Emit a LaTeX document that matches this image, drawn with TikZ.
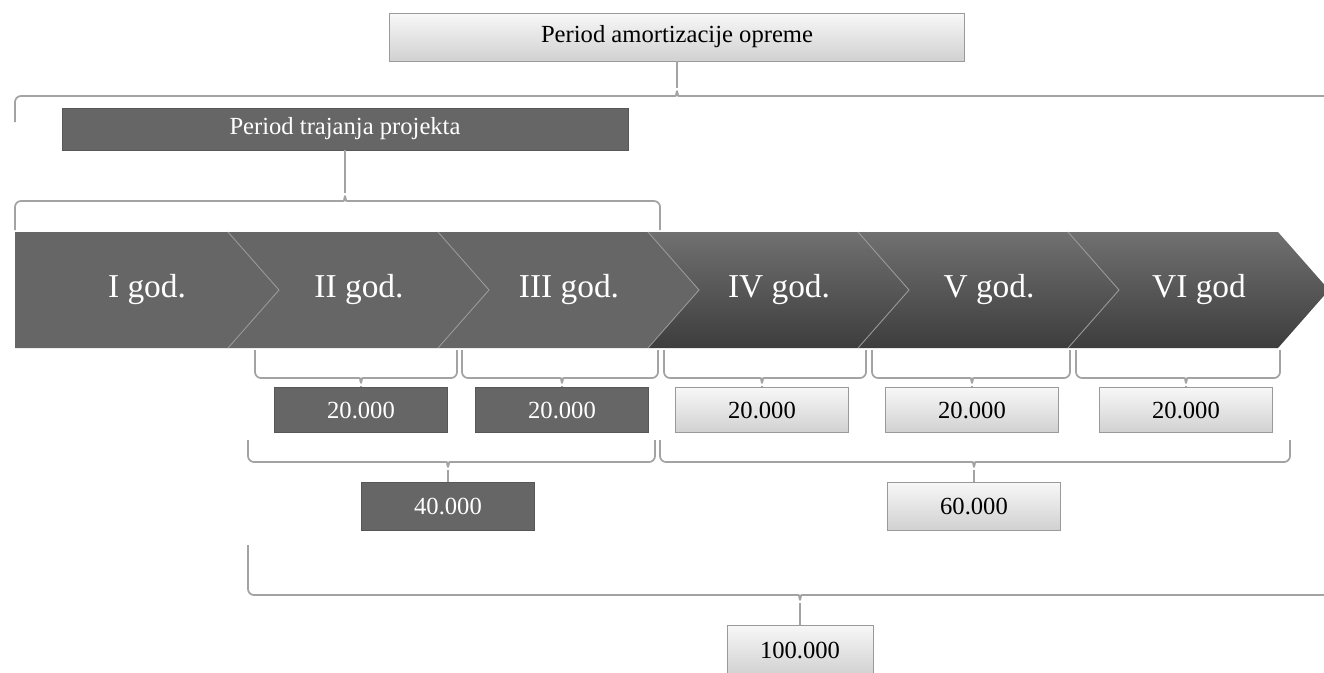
\documentclass[tikz,border=0pt]{standalone}
\usepackage{fontspec}
\setmainfont{Liberation Serif}
\usetikzlibrary{calc,positioning}

\definecolor{darkgr}{HTML}{666666}
\definecolor{bracegr}{HTML}{A3A3A3}
\definecolor{edgegr}{HTML}{9A9A9A}

\def\pxl{0.2mm}

\tikzset{
  darkbox/.style={draw=darkgr!85!black, fill=darkgr, text=white, inner sep=0pt,
    font=\fontsize{14}{16}\selectfont, minimum width={173*\pxl}, minimum height={45*\pxl}},
  lightbox/.style={draw=edgegr, top color=black!3, bottom color=black!18, text=black, inner sep=0pt,
    font=\fontsize{14}{16}\selectfont, minimum width={173*\pxl}, minimum height={45*\pxl}},
  brc/.style={draw=bracegr, line width=1pt, rounded corners=1.2mm},
  stem/.style={draw=bracegr, line width=1pt},
  notch/.style={draw=black!40, line width=0.5pt},
  yearlbl/.style={text=white, font=\fontsize{19}{22}\selectfont}
}

% brace: x1, x2, tip x, y of ends, y of line, y of tip
\newcommand{\gbrace}[6]{%
  \draw[brc] (#1,#4) -- (#1,#5) -- ({#3-8},#5) .. controls ({#3-1},#5) .. (#3,#6)
    .. controls ({#3+1},#5) .. ({#3+8},#5) -- (#2,#5) -- (#2,#4);}

\begin{document}
\begin{tikzpicture}[x=0.2mm,y=-0.2mm]
\useasboundingbox (0,0) rectangle (1324,672);

% the two periods
\node[lightbox, minimum width={575*\pxl}, minimum height={48*\pxl}] (amort) at (677,37) {Period amortizacije opreme};
\gbrace{15}{1340}{677}{122}{96}{88}
\coordinate (tA) at (677,88);
\draw[stem] (tA) -- (amort);

\node[darkbox, minimum width={566*\pxl}, minimum height={42*\pxl}] (proj) at (345,129) {Period trajanja projekta};
\gbrace{15}{660}{345}{230}{201}{193}
\coordinate (tP) at (345,193);
\draw[stem] (tP) -- (proj);

% years
\foreach \i in {1,...,6}{
  \pgfmathsetmacro{\xl}{\i==1 ? 15 : 18+210*(\i-1)}
  \pgfmathsetmacro{\xr}{18+210*\i}
  \pgfmathsetmacro{\nd}{\i==1 ? 0 : 51}
  \ifnum\i<4
    \fill[darkgr] (\xl,232) -- (\xr,232) -- ({\xr+51},290) -- (\xr,348) -- (\xl,348) -- ({\xl+\nd},290) -- cycle;
  \else
    \shade[top color=black!56, bottom color=black!76] (\xl,232) -- (\xr,232) -- ({\xr+51},290) -- (\xr,348) -- (\xl,348) -- ({\xl+\nd},290) -- cycle;
  \fi
  \ifnum\i>1
    \draw[notch] (\xl,232) -- ({\xl+51},290) -- (\xl,348);
  \fi
}
\node[yearlbl] (y1) at (147,290) {I god.};
\node[yearlbl] (y2) at (359,290) {II god.};
\node[yearlbl] (y3) at (569,290) {III god.};
\node[yearlbl] (y4) at (779,290) {IV god.};
\node[yearlbl] (y5) at (989,290) {V god.};
\node[yearlbl] (y6) at (1199,290) {VI god};

% yearly amounts
\node[darkbox] (n2) at (361,410) {20.000};
\node[darkbox] (n3) at (562,410) {20.000};
\node[lightbox] (n4) at (762,410) {20.000};
\node[lightbox] (n5) at (972,410) {20.000};
\node[lightbox] (n6) at (1186,410) {20.000};

\gbrace{255}{457}{361}{350}{378}{386}
\gbrace{462}{658}{562}{350}{378}{386}
\gbrace{664}{866}{762}{350}{378}{386}
\gbrace{872}{1070}{972}{350}{378}{386}
\gbrace{1076}{1280}{1186}{350}{378}{386}
\coordinate (t2) at (361,386);
\coordinate (t3) at (562,386);
\coordinate (t4) at (762,386);
\coordinate (t5) at (972,386);
\coordinate (t6) at (1186,386);
\foreach \k in {2,...,6}
  \draw[stem] (t\k) -- (n\k);

% sums
\node[darkbox, minimum height={48*\pxl}] (s40) at (448,506) {40.000};
\node[lightbox, minimum height={48*\pxl}] (s60) at (974,506) {60.000};
\gbrace{248}{655}{448}{440}{462}{470}
\gbrace{660}{1290}{974}{440}{462}{470}
\coordinate (tL) at (448,470);
\coordinate (tR) at (974,470);
\draw[stem] (tL) -- (s40);
\draw[stem] (tR) -- (s60);

\node[lightbox, minimum width={146*\pxl}, minimum height={50*\pxl}] (tot) at (800,650) {100.000};
\gbrace{248}{1340}{800}{545}{595}{603}
\coordinate (tT) at (800,603);
\draw[stem] (tT) -- (tot);

\end{tikzpicture}
\end{document}
